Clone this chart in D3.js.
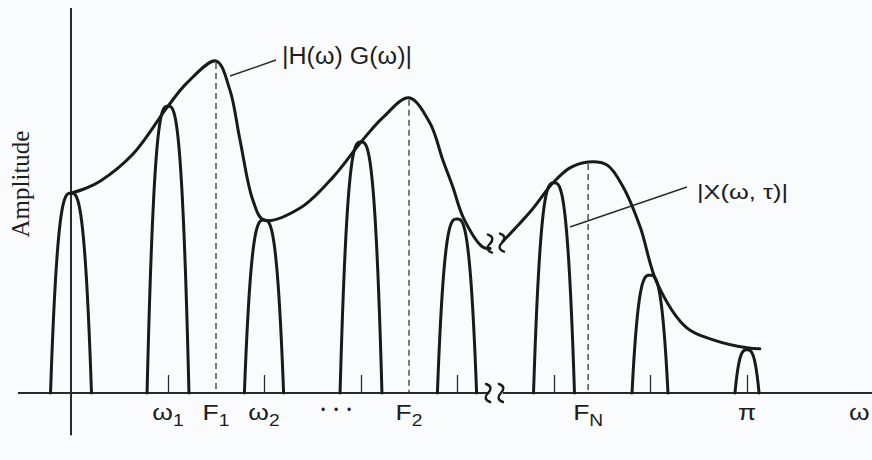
<!DOCTYPE html>
<html lang="en">
<head>
  <meta charset="UTF-8">
  <title>Short-time spectrum sketch</title>
  <style>
    body { margin: 0; background: #fafbfc; }
    svg { display: block; }
    .thick { fill: none; stroke: #1a1a1a; stroke-width: 3px; stroke-linejoin: round; stroke-linecap: round; }
    .axisline { fill: none; stroke: #2a2a2a; stroke-width: 2px; }
    .dash { stroke: #444; stroke-width: 1.4px; stroke-dasharray: 6 4; }
    .leader { stroke: #2a2a2a; stroke-width: 1.4px; }
    .lbl { font-family: "Liberation Sans", Arial, sans-serif; fill: #1e1e1e; }
    .squig { fill: none; stroke: #1a1a1a; stroke-width: 2.4px; stroke-linecap: round; }
  </style>
</head>
<body>
  <svg width="872" height="460"></svg>

  <script src="https://d3js.org/d3.v7.min.js"></script>
  <script>
    // pulses (harmonic lobes): centre, half width, peak height
    const pulseCenters = [0, 14.35, 28.55, 42.9, 57.1, 71.45, 85.65, 100];
    const pulseHalfWidths = [3.03, 3.1, 2.9, 3.1, 2.9, 3.03, 2.66, 1.78];
    const pulsePeaks = [60.2, 86.4, 52.1, 75.6, 52.4, 63.3, 35.5, 13.0];

    // |H(w) G(w)| envelope, split at the axis break
    const envelopeLeft = [
      [0, 60.2], [2.1, 61.6], [4.3, 63.8], [9.17, 72.0], [14.35, 86.4], [17.16, 93.4],
      [21.45, 100], [23.5, 91.3], [25.0, 76.2], [26.9, 58.1], [28.55, 52.1],
      [33.9, 55.7], [38.8, 65.1], [42.9, 75.6], [46.2, 83.1], [50.0, 88.9],
      [53.1, 81.3], [55.0, 70.2], [56.5, 62.0], [58.0, 53.0], [60.9, 44.0], [62.0, 43.5]
    ];
    const envelopeRight = [
      [63.9, 45.7], [67.9, 54.5], [71.3, 63.3], [73.8, 67.8], [76.5, 69.6],
      [79.3, 68.7], [81.7, 62.0], [84.2, 50.0], [86.7, 33.1], [91.1, 19.6],
      [95.0, 16.0], [100, 13.6], [101.9, 13.3]
    ];

    // formant frequencies (dashed) and their peak heights
    const formantX = [21.45, 50.0, 76.5];
    const formantPeak = [100, 88.9, 69.6];
    const formantNames = ["1", "2", "N"];

    // x-axis labels
    const harmonicLabels = [
      { x: 14.35, base: "ω", sub: "1" },
      { x: 28.55, base: "ω", sub: "2" },
      { x: 100, base: "π", sub: "" },
      { x: 116.6, base: "ω", sub: "" }
    ];

    const axisExtentX = [-7.85, 118.5];
    const axisBreak = [61.9, 63.9];
    const axisExtentY = [-12.7, 116];

    const width = 872, height = 460;
    const svg = d3.select("svg");

    const x = d3.scaleLinear().domain([0, 100]).range([71, 747]);
    const y = d3.scaleLinear().domain([0, 100]).range([393, 61]);

    // dashed formant lines
    svg.selectAll(".dash")
       .data(formantX)
       .join("line")
       .attr("class", "dash")
       .attr("x1", d => x(d)).attr("x2", d => x(d))
       .attr("y1", (d, i) => y(formantPeak[i]) + 2)
       .attr("y2", y(0));

    // horizontal axis with break
    svg.append("line").attr("class", "axisline")
       .attr("x1", x(axisExtentX[0])).attr("x2", x(axisBreak[0]))
       .attr("y1", y(0)).attr("y2", y(0));
    svg.append("line").attr("class", "axisline")
       .attr("x1", x(axisBreak[1])).attr("x2", x(axisExtentX[1]))
       .attr("y1", y(0)).attr("y2", y(0));

    // vertical axis
    svg.append("line").attr("class", "axisline")
       .attr("x1", x(0)).attr("x2", x(0))
       .attr("y1", y(axisExtentY[0])).attr("y2", y(axisExtentY[1]));

    // small harmonic ticks (no labels)
    const ax = d3.axisTop(x)
      .tickValues(pulseCenters.slice(1))
      .tickSizeInner(18).tickSizeOuter(0)
      .tickFormat("");
    const axG = svg.append("g").attr("transform", `translate(0,${y(0)})`).call(ax);
    axG.select(".domain").remove();
    axG.selectAll(".tick line").attr("stroke", "#2a2a2a").attr("stroke-width", 1.3);

    // pulses
    const lineXY = d3.line().x(d => x(d[0])).y(d => y(d[1]));
    const ts = d3.range(-1, 1.0001, 0.04);
    pulseCenters.forEach((c, i) => {
      const pts = ts.map(t => [c + t * pulseHalfWidths[i], pulsePeaks[i] * (1 - Math.pow(Math.abs(t), 3))]);
      svg.append("path").attr("class", "thick").attr("d", lineXY(pts));
    });

    // envelope
    const envLine = d3.line().x(d => x(d[0])).y(d => y(d[1])).curve(d3.curveCatmullRom.alpha(0.5));
    svg.append("path").attr("class", "thick").attr("d", envLine(envelopeLeft));
    svg.append("path").attr("class", "thick").attr("d", envLine(envelopeRight));

    // break squiggles
    const squig = "M -2,-9 C 4,-7 3,-3 0,0 C -3,3 -4,7 2,9";
    [axisBreak[0] - 0.2, axisBreak[1] - 0.3].forEach(v => {
      svg.append("path").attr("class", "squig").attr("d", squig)
         .attr("transform", `translate(${x(v)},${y(0)})`);
    });
    [[61.98, 45.0], [63.76, 45.3]].forEach(p => {
      svg.append("path").attr("class", "squig").attr("d", squig)
         .attr("transform", `translate(${x(p[0])},${y(p[1])})`);
    });

    // x labels
    function subLabel(xp, base, sub) {
      const t = svg.append("text").attr("class", "lbl")
        .attr("text-anchor", "middle")
        .attr("transform", `translate(${xp},420) scale(1.2,1)`);
      t.append("tspan").attr("font-size", 22).text(base);
      if (sub) t.append("tspan").attr("font-size", 16).attr("dy", 6).text(sub);
    }
    harmonicLabels.forEach(d => subLabel(x(d.x), d.base, d.sub));
    formantX.forEach((d, i) => subLabel(x(d), "F", formantNames[i]));

    svg.append("text").attr("class", "lbl")
       .attr("x", 321).attr("y", 414)
       .attr("font-size", 12).attr("letter-spacing", 8.8)
       .text("•••");

    // y label
    svg.append("text")
       .attr("transform", "translate(29,184) rotate(-90)")
       .attr("text-anchor", "middle")
       .attr("font-family", "Liberation Serif, Times New Roman, serif")
       .attr("font-size", 25).attr("fill", "#1e1e1e")
       .text("Amplitude");

    // annotations
    svg.append("line").attr("class", "leader")
       .attr("x1", 230).attr("y1", 76).attr("x2", 276).attr("y2", 60);
    svg.append("text").attr("class", "lbl")
       .attr("x", 282).attr("y", 64).attr("font-size", 23)
       .attr("textLength", 130).attr("lengthAdjust", "spacingAndGlyphs")
       .text("|H(ω) G(ω)|");

    svg.append("line").attr("class", "leader")
       .attr("x1", 570).attr("y1", 227).attr("x2", 687).attr("y2", 187);
    svg.append("text").attr("class", "lbl")
       .attr("x", 697).attr("y", 199).attr("font-size", 21)
       .attr("textLength", 91).attr("lengthAdjust", "spacingAndGlyphs")
       .text("|X(ω, τ)|");
  </script>
</body>
</html>
